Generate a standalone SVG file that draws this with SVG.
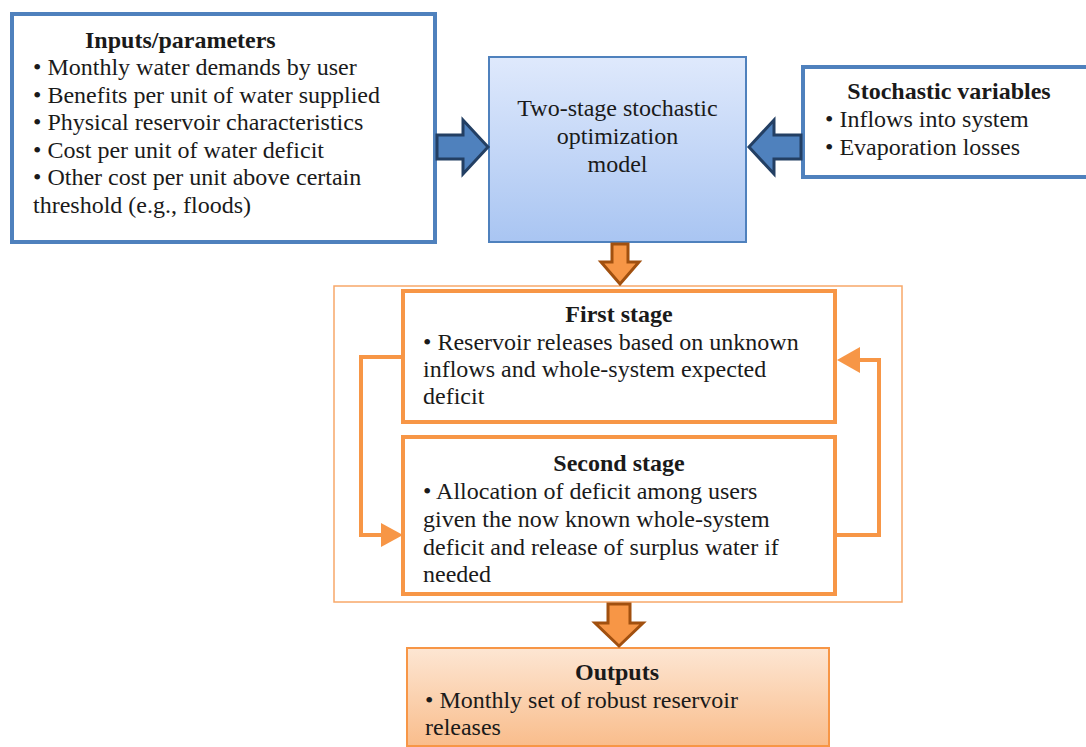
<svg xmlns="http://www.w3.org/2000/svg" width="1086" height="747" viewBox="0 0 1086 747">
<defs>
<linearGradient id="gBlue" x1="0" y1="0" x2="0" y2="1">
<stop offset="0" stop-color="#dfe9fc"/>
<stop offset="1" stop-color="#a9c5f2"/>
</linearGradient>
<linearGradient id="gOrange" x1="0" y1="0" x2="0" y2="1">
<stop offset="0" stop-color="#fde6d3"/>
<stop offset="1" stop-color="#f9bd8c"/>
</linearGradient>
</defs>
<style>
text{font-family:"Liberation Serif","Times New Roman",serif;font-size:24px;fill:#1a1a1a}
.b{font-weight:bold}
.c{text-anchor:middle}
.blue{fill:#fff;stroke:#4f81bd;stroke-width:4}
.stage{fill:#fff;stroke:#f79646;stroke-width:4}
.barrow{fill:#4f81bd;stroke:#233f63;stroke-width:3}
.oarrow{fill:#f79646;stroke:#a1500f;stroke-width:3}
.loop{fill:none;stroke:#f79646;stroke-width:4}
.head{fill:#f79646}
</style>
<g id="inputs">
<rect class="blue" x="12" y="14" width="423" height="228"/>
<text class="b" x="85" y="48">Inputs/parameters</text>
<text x="33" y="75">• Monthly water demands by user</text>
<text x="33" y="102.5">• Benefits per unit of water supplied</text>
<text x="33" y="130">• Physical reservoir characteristics</text>
<text x="33" y="157.5">• Cost per unit of water deficit</text>
<text x="33" y="185">• Other cost per unit above certain</text>
<text x="33" y="212.5">threshold (e.g., floods)</text>
</g>
<g id="model">
<rect x="489" y="57" width="257" height="185" fill="url(#gBlue)" stroke="#4f81bd" stroke-width="2"/>
<text class="c" x="617.5" y="116">Two-stage stochastic</text>
<text class="c" x="617.5" y="144">optimization</text>
<text class="c" x="617.5" y="172">model</text>
</g>
<g id="stochastic">
<rect class="blue" x="803" y="67" width="290" height="110"/>
<text class="b c" x="949" y="99">Stochastic variables</text>
<text x="825" y="127">• Inflows into system</text>
<text x="825" y="155">• Evaporation losses</text>
</g>
<g id="outer">
<rect x="334" y="286" width="568" height="316" fill="none" stroke="#f8a869" stroke-width="1.5"/>
</g>
<g id="first">
<rect class="stage" x="403" y="291" width="432" height="131"/>
<text class="b c" x="619" y="322">First stage</text>
<text x="423" y="350">• Reservoir releases based on unknown</text>
<text x="423" y="377">inflows and whole-system expected</text>
<text x="423" y="404">deficit</text>
</g>
<g id="second">
<rect class="stage" x="403" y="437" width="432" height="157"/>
<text class="b c" x="619" y="471">Second stage</text>
<text x="423" y="499">• Allocation of deficit among users</text>
<text x="423" y="527">given the now known whole-system</text>
<text x="423" y="555">deficit and release of surplus water if</text>
<text x="423" y="582">needed</text>
</g>
<g id="outputs">
<rect x="407" y="648" width="422" height="98" fill="url(#gOrange)" stroke="#f79646" stroke-width="2"/>
<text class="b c" x="617" y="680">Outputs</text>
<text x="425" y="708">• Monthly set of robust reservoir</text>
<text x="425" y="735">releases</text>
</g>
<g id="connectors">
<path class="barrow" d="M437,135 L463,135 L463,120 L488,147 L463,174 L463,159 L437,159 Z"/>
<path class="barrow" d="M801,135 L774,135 L774,120 L749,147 L774,174 L774,159 L801,159 Z"/>
<path class="oarrow" d="M612,244 L628,244 L628,262 L639,262 L620,284 L601,262 L612,262 Z"/>
<path class="oarrow" d="M608,604 L630,604 L630,623 L643,623 L619,646 L595,623 L608,623 Z"/>
<path class="loop" d="M401,357 L361,357 L361,535 L384,535"/>
<path class="head" d="M381,523 L403,535 L381,547 Z"/>
<path class="loop" d="M837,535 L879,535 L879,360 L858,360"/>
<path class="head" d="M860,347 L837,360 L860,373 Z"/>
</g>
</svg>
